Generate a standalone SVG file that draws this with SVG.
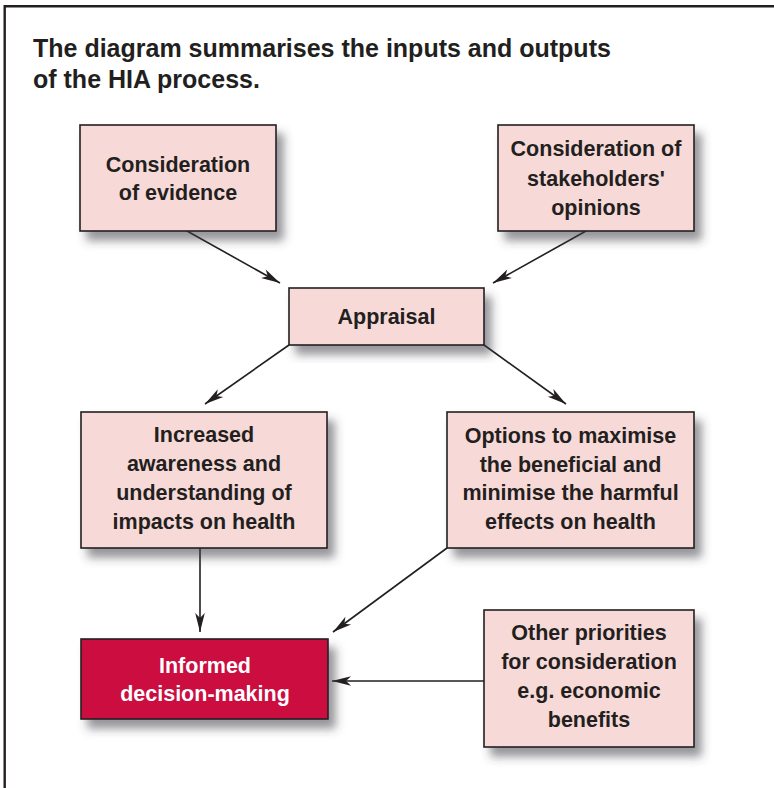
<svg xmlns="http://www.w3.org/2000/svg" width="774" height="788" viewBox="0 0 774 788">
<style>
.box{fill:#F7D9D7;stroke:#231F20;stroke-width:1.6;filter:url(#sh)}
.key{fill:#CB0E40;stroke:#231F20;stroke-width:1.6;filter:url(#sh)}
.t{font-family:"Liberation Sans",Arial,sans-serif;font-weight:bold;font-size:21.5px;fill:#231F20;text-anchor:middle}
.w{fill:#FFFFFF}
.title{font-family:"Liberation Sans",Arial,sans-serif;font-weight:bold;font-size:25px;fill:#231F20}
.c{stroke:#231F20;stroke-width:1.6;fill:none;marker-end:url(#ah)}
</style>
<defs>
<filter id="sh" x="-10%" y="-10%" width="130%" height="140%">
<feDropShadow dx="7" dy="9" stdDeviation="5" flood-color="#3f3f4a" flood-opacity="0.55"/>
</filter>
<marker id="ah" markerUnits="userSpaceOnUse" markerWidth="24" markerHeight="14" viewBox="-21 -7 22 14" refX="0" refY="0" orient="auto">
<path d="M0,0 L-19,-4.8 L-14,0 L-19,4.8 Z" fill="#231F20"/>
</marker>
</defs>
<rect x="0" y="0" width="774" height="788" fill="#FFFFFF"/>
<path d="M4.7,788 V6.2 H774" fill="none" stroke="#231F20" stroke-width="2.4"/>
<g id="title">
<text class="title" x="33" y="57">The diagram summarises the inputs and outputs</text>
<text class="title" x="33" y="88">of the HIA process.</text>
</g>
<g id="connectors">
<path class="c" d="M187,231 L280,283"/>
<path class="c" d="M586,231 L493,283"/>
<path class="c" d="M289,345 L205,404"/>
<path class="c" d="M484,345 L566,404"/>
<path class="c" d="M200,548 L200,632"/>
<path class="c" d="M447,548 L333,632"/>
<path class="c" d="M484,681 L332,681"/>
</g>
<g id="evidence">
<rect class="box" x="80" y="125" width="196" height="106"/>
<text class="t" x="178" y="172">Consideration</text>
<text class="t" x="178" y="200">of evidence</text>
</g>
<g id="stakeholders">
<rect class="box" x="498" y="125" width="196" height="106"/>
<text class="t" x="596" y="156">Consideration of</text>
<text class="t" x="596" y="185.5">stakeholders'</text>
<text class="t" x="596" y="215">opinions</text>
</g>
<g id="appraisal">
<rect class="box" x="289" y="288" width="195" height="57"/>
<text class="t" x="386.5" y="324">Appraisal</text>
</g>
<g id="awareness">
<rect class="box" x="81" y="412" width="246" height="136"/>
<text class="t" x="204" y="442">Increased</text>
<text class="t" x="204" y="471">awareness and</text>
<text class="t" x="204" y="500">understanding of</text>
<text class="t" x="204" y="528.5">impacts on health</text>
</g>
<g id="options">
<rect class="box" x="447" y="412" width="247" height="136"/>
<text class="t" x="570.5" y="443">Options to maximise</text>
<text class="t" x="570.5" y="471.5">the beneficial and</text>
<text class="t" x="570.5" y="500">minimise the harmful</text>
<text class="t" x="570.5" y="528.5">effects on health</text>
</g>
<g id="informed">
<rect class="key" x="81" y="639" width="247" height="80"/>
<text class="t w" x="205" y="672.5">Informed</text>
<text class="t w" x="205" y="701">decision-making</text>
</g>
<g id="other">
<rect class="box" x="484" y="610" width="210" height="137"/>
<text class="t" x="589" y="640">Other priorities</text>
<text class="t" x="589" y="669">for consideration</text>
<text class="t" x="589" y="698">e.g. economic</text>
<text class="t" x="589" y="727">benefits</text>
</g>
</svg>
